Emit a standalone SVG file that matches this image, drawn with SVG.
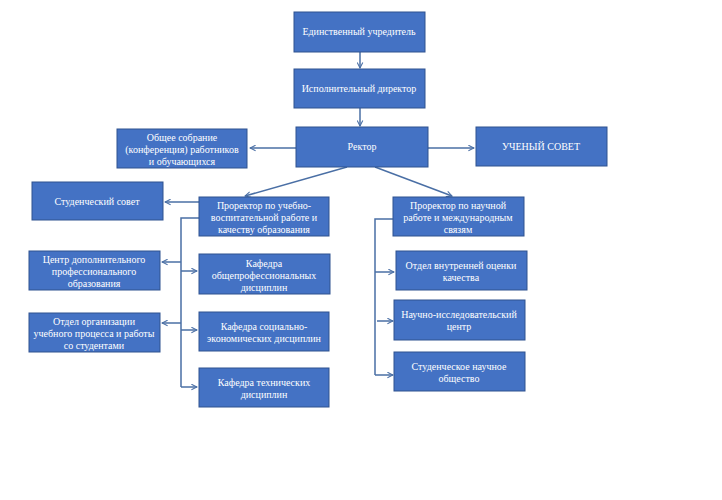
<svg xmlns="http://www.w3.org/2000/svg" width="722" height="500" viewBox="0 0 722 500">
<style>
.b{fill:#4472C4;stroke:#2F528F;stroke-width:1}
.t{fill:#fff;font-family:"Liberation Serif",serif;font-size:10px;text-anchor:middle}
.c{fill:none;stroke:#4A6FA5;stroke-width:1.5}
</style>
<defs><marker id="a" viewBox="0 0 10 10" refX="9" refY="5" markerWidth="7" markerHeight="7" orient="auto" markerUnits="userSpaceOnUse"><path d="M1,1 L9,5 L1,9" fill="none" stroke="#4A6FA5" stroke-width="1.5"/></marker></defs>
<rect width="722" height="500" fill="#fff"/>
<g id="connectors" class="c">
<path d="M360,52V68" marker-end="url(#a)"/>
<path d="M360,108V126" marker-end="url(#a)"/>
<path d="M296,148H250" marker-end="url(#a)"/>
<path d="M428,148H474" marker-end="url(#a)"/>
<path d="M347,167L245,196" marker-end="url(#a)"/>
<path d="M375,167L452,196" marker-end="url(#a)"/>
<path d="M199,202H165" marker-end="url(#a)"/>
<path d="M199,218H181V387"/>
<path d="M181,262H162" marker-end="url(#a)"/>
<path d="M181,323H162" marker-end="url(#a)"/>
<path d="M181,271H197" marker-end="url(#a)"/>
<path d="M181,330H197" marker-end="url(#a)"/>
<path d="M181,387H197" marker-end="url(#a)"/>
<path d="M393,219H375V375"/>
<path d="M375,272H394" marker-end="url(#a)"/>
<path d="M377,321H393" marker-end="url(#a)"/>
<path d="M375,375H393" marker-end="url(#a)"/>
</g>
<g id="n1"><rect class="b" x="294" y="12" width="131" height="40"/><text class="t" x="359" y="35">Единственный  учредитель</text></g>
<g id="n2"><rect class="b" x="294" y="69" width="131" height="39"/><text class="t" x="359" y="92">Исполнительный  директор</text></g>
<g id="n3"><rect class="b" x="296" y="127" width="132" height="40"/><text class="t" x="362" y="150">Ректор</text></g>
<g id="n4"><rect class="b" x="117" y="129" width="130" height="39"/><text class="t" x="182" y="141">Общее собрание</text><text class="t" x="182" y="153">(конференция)  работников</text><text class="t" x="182" y="165">и обучающихся</text></g>
<g id="n5"><rect class="b" x="476" y="127" width="131" height="39"/><text class="t" x="541" y="150">УЧЕНЫЙ  СОВЕТ</text></g>
<g id="n6"><rect class="b" x="32" y="182" width="131" height="38"/><text class="t" x="97" y="205">Студенческий  совет</text></g>
<g id="n7"><rect class="b" x="199" y="197" width="130" height="39"/><text class="t" x="264" y="209">Проректор  по учебно-</text><text class="t" x="264" y="221">воспитательной  работе и</text><text class="t" x="264" y="233">качеству образования</text></g>
<g id="n8"><rect class="b" x="29" y="251" width="131" height="39"/><text class="t" x="94" y="263">Центр  дополнительного</text><text class="t" x="94" y="275">профессионального</text><text class="t" x="94" y="287">образования</text></g>
<g id="n9"><rect class="b" x="199" y="254" width="131" height="40"/><text class="t" x="264" y="267">Кафедра</text><text class="t" x="264" y="279">общепрофессиональных</text><text class="t" x="264" y="291">дисциплин</text></g>
<g id="n10"><rect class="b" x="29" y="313" width="131" height="39"/><text class="t" x="94" y="325">Отдел  организации</text><text class="t" x="94" y="337">учебного процесса и работы</text><text class="t" x="94" y="349">со студентами</text></g>
<g id="n11"><rect class="b" x="199" y="312" width="130" height="39"/><text class="t" x="264" y="330">Кафедра  социально-</text><text class="t" x="264" y="342">экономических  дисциплин</text></g>
<g id="n12"><rect class="b" x="199" y="368" width="130" height="39"/><text class="t" x="264" y="386">Кафедра  технических</text><text class="t" x="264" y="398">дисциплин</text></g>
<g id="n13"><rect class="b" x="393" y="197" width="131" height="39"/><text class="t" x="458" y="209">Проректор  по научной</text><text class="t" x="458" y="221">работе  и международным</text><text class="t" x="458" y="233">связям</text></g>
<g id="n14"><rect class="b" x="396" y="251" width="131" height="39"/><text class="t" x="461" y="269">Отдел  внутренней  оценки</text><text class="t" x="461" y="281">качества</text></g>
<g id="n15"><rect class="b" x="394" y="300" width="131" height="40"/><text class="t" x="459" y="318">Научно-исследовательский</text><text class="t" x="459" y="330">центр</text></g>
<g id="n16"><rect class="b" x="394" y="352" width="131" height="39"/><text class="t" x="459" y="370">Студенческое  научное</text><text class="t" x="459" y="382">общество</text></g>
</svg>
